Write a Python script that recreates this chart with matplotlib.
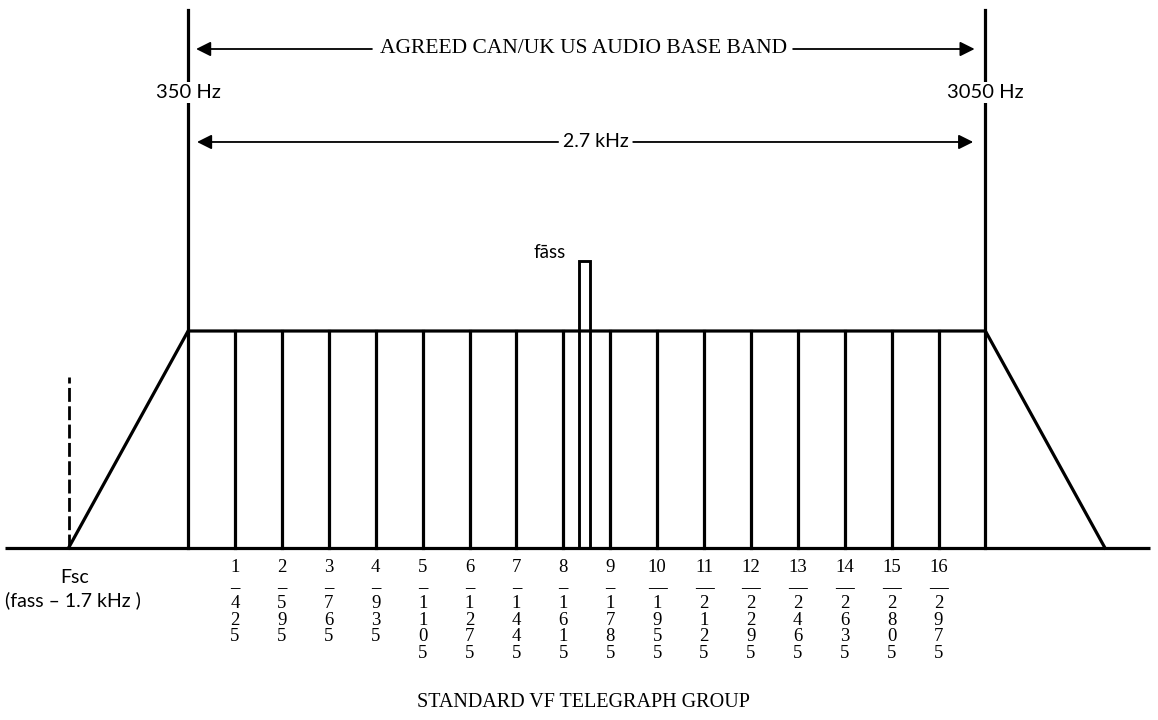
import matplotlib
matplotlib.use("Agg")
import matplotlib.pyplot as plt

# ---- data ----
channels = list(range(1, 17))
channel_freqs = [425, 595, 765, 935, 1105, 1275, 1445, 1615,
                 1785, 1955, 2125, 2295, 2465, 2635, 2805, 2975]
band_edges = [0, 17]              # diagram positions of the 350 Hz / 3050 Hz edges
band_edge_labels = ["350 Hz", "3050 Hz"]
trap_x = [-2.55, 0, 17, 19.55]
trap_y = [0, 1, 1, 0]
fass_x = [8.33, 8.57]
fass_top = 1.323
edge_top = 2.479

SANS = ["Lato", "DejaVu Sans"]
SERIF = ["Liberation Serif", "DejaVu Serif"]

fig = plt.figure(figsize=(11.58, 7.2), dpi=100)
ax = fig.add_axes([0, 0, 1, 1])
ax.set_xlim(-4.0107, 20.680)
ax.set_ylim(-0.7926, 2.5253)
ax.axis("off")

LW = 2.3
k = "black"

# baseline
ax.plot([-3.90, 20.51], [0, 0], color=k, lw=LW, solid_capstyle="butt")
# trapezoid
ax.plot(trap_x, trap_y, color=k, lw=LW, solid_joinstyle="miter")
# band edges
for bx, lab in zip(band_edges, band_edge_labels):
    ax.plot([bx, bx], [0, edge_top], color=k, lw=LW)
    ax.text(bx, 2.101, lab, ha="center", va="center", fontsize=14.5,
            family=SANS, bbox=dict(facecolor="white", edgecolor="none", pad=1.5))
# channel lines
for c in channels:
    ax.plot([c, c], [0, 1], color=k, lw=LW)
# fass box
ax.plot([fass_x[0], fass_x[0], fass_x[1], fass_x[1]], [0, fass_top, fass_top, 0],
        color=k, lw=LW * 0.9, solid_joinstyle="miter")
ax.text(7.70, 1.364, "fāss", ha="center", va="center", fontsize=13.5, family=SANS)

# Fsc dashed line
ax.plot([trap_x[0], trap_x[0]], [0, 0.79], color=k, lw=2.0, dashes=(5, 1.6))
ax.text(-2.41, -0.138, "Fsc", ha="center", va="center", fontsize=14, family=SANS)
ax.text(-2.45, -0.240, "(fass – 1.7 kHz )", ha="center", va="center",
        fontsize=14, family=SANS)

# arrows
def arrow_row(y, left_end, right_start, tip_l, tip_r):
    ap = dict(arrowstyle="-|>", color=k, lw=1.3, mutation_scale=22,
              shrinkA=0, shrinkB=0)
    ax.annotate("", xy=(tip_l, y), xytext=(left_end, y), arrowprops=ap)
    ax.annotate("", xy=(tip_r, y), xytext=(right_start, y), arrowprops=ap)

arrow_row(2.2995, 3.92, 12.90, 0.17, 16.77)
ax.text(8.43, 2.2995, "AGREED CAN/UK US AUDIO BASE BAND", ha="center",
        va="center", fontsize=15.5, family=SERIF)
arrow_row(1.871, 7.89, 9.49, 0.19, 16.74)
ax.text(8.69, 1.871, "2.7 kHz", ha="center", va="center", fontsize=14,
        family=SANS)

# channel labels
y_num = -0.0876
y_dash = -0.189
y_dig0 = -0.258
dy = 0.0753
for c, f in zip(channels, channel_freqs):
    ax.text(c, y_num, str(c), ha="center", va="center", fontsize=13.5,
            family=SERIF)
    ax.text(c, y_dash, "–" if c < 10 else "—", ha="center", va="center",
            fontsize=13.5, family=SERIF, weight="bold")
    for i, d in enumerate(str(f)):
        ax.text(c, y_dig0 - i * dy, d, ha="center", va="center",
                fontsize=13.5, family=SERIF)

ax.text(8.43, -0.710, "STANDARD VF TELEGRAPH GROUP", ha="center", va="center",
        fontsize=14.5, family=SERIF)

fig.savefig("out.png", dpi=100)
